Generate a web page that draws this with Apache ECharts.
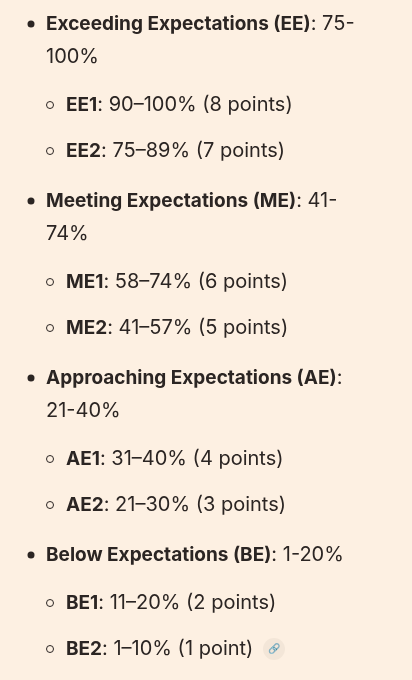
<!DOCTYPE html>
<html>
<head>
<meta charset="utf-8">
<script src="https://cdn.jsdelivr.net/npm/echarts@6/dist/echarts.min.js"></script>
<style>
  html, body { margin: 0; padding: 0; background: #fdf0e2; }
  #main { width: 412px; height: 680px; }
</style>
</head>
<body>
<div id="main"></div>
<script>
// main levels: bold label, range (first line / wrapped line)
const LEVELS = ['Exceeding Expectations (EE)', 'Meeting Expectations (ME)', 'Approaching Expectations (AE)', 'Below Expectations (BE)'];
const LEVEL_RANGE_1 = [' 75-', ' 41-', '', ' 1-20%'];
const LEVEL_RANGE_2 = ['100%', '74%', '21-40%', ''];
// sub levels
const SUBS = [['EE1', 'EE2'], ['ME1', 'ME2'], ['AE1', 'AE2'], ['BE1', 'BE2']];
const SUB_RANGES = [['90–100%', '75–89%'], ['58–74%', '41–57%'], ['31–40%', '21–30%'], ['11–20%', '1–10%']];
const SUB_POINTS = [['8 points', '7 points'], ['6 points', '5 points'], ['4 points', '3 points'], ['2 points', '1 point']];

const TEXT_COLOR = '#2b2523';
const FONT = 'Inter, "Noto Sans", sans-serif';
const RICH = {
  b: { fontWeight: 'bold', fontSize: 19, fontFamily: FONT, fill: TEXT_COLOR },
  n: { fontSize: 20, fontFamily: FONT, fill: TEXT_COLOR }
};

let elements = [];
let y = 24;

function text(x, yy, str) {
  elements.push({
    type: 'text', x: x, y: yy,
    style: { text: str, rich: RICH, verticalAlign: 'middle', fill: TEXT_COLOR }
  });
}

for (let i = 0; i < LEVELS.length; i += 1) {
  elements.push({ type: 'circle', shape: { cx: 31, cy: y, r: 3.5 }, style: { fill: TEXT_COLOR } });
  text(46, y, `{b|${LEVELS[i]}}{n|:${LEVEL_RANGE_1[i]}}`);
  if (LEVEL_RANGE_2[i]) {
    y += 33;
    text(46, y, `{n|${LEVEL_RANGE_2[i]}}`);
  }
  y += 48;
  for (let j = 0; j < SUBS[i].length; j += 1) {
    elements.push({ type: 'circle', shape: { cx: 50, cy: y, r: 3.5 }, style: { fill: 'none', stroke: TEXT_COLOR, lineWidth: 1 } });
    text(66, y, `{b|${SUBS[i][j]}}{n|: ${SUB_RANGES[i][j]} (${SUB_POINTS[i][j]})}`);
    if (i === LEVELS.length - 1 && j === SUBS[i].length - 1) {
      // link icon
      elements.push({ type: 'circle', shape: { cx: 274, cy: y, r: 11 }, style: { fill: '#f3e6d8' } });
      elements.push({ type: 'text', x: 274, y: y, style: { text: '🔗', fontSize: 10, align: 'center', verticalAlign: 'middle', fill: '#555' } });
    }
    y += j === SUBS[i].length - 1 ? 50 : 46;
  }
}

let chart = echarts.init(document.getElementById('main'));
chart.setOption({
  backgroundColor: '#fdf0e2',
  graphic: { elements: elements }
});
</script>
</body>
</html>
